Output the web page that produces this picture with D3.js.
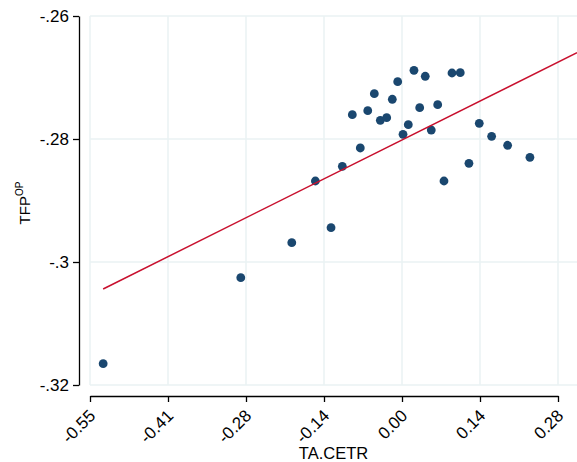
<!DOCTYPE html>
<html><head><meta charset="utf-8">
<script src="https://cdn.jsdelivr.net/npm/d3@7"></script>
<style>html,body{margin:0;padding:0;background:#fff;}svg{display:block;font-family:"Liberation Sans",Arial,sans-serif;}</style>
</head><body>
<script>
const xTicks = [-0.55, -0.4125, -0.275, -0.1375, 0, 0.1375, 0.275];
const xTickLabels = ["-0.55", "-0.41", "-0.28", "-0.14", "0.00", "0.14", "0.28"];
const yTicks = [-0.32, -0.30, -0.28, -0.26];
const yTickLabels = ["-.32", "-.3", "-.28", "-.26"];
const ptX = [-0.5268, -0.2842, -0.1943, -0.1251, -0.1527, -0.1052, -0.0735, -0.0876, -0.0604, -0.0488,
  -0.0382, -0.0270, -0.0171, -0.0076, 0.0018, 0.0111, 0.0211, 0.0312, 0.0410, 0.0516,
  0.0629, 0.0740, 0.0881, 0.1027, 0.1180, 0.1362, 0.1580, 0.1862, 0.2255];
const ptY = [-0.31654, -0.30255, -0.29686, -0.29442, -0.28683, -0.28444, -0.28146, -0.27605, -0.27540, -0.27263,
  -0.27696, -0.27654, -0.27354, -0.27068, -0.27924, -0.27767, -0.26883, -0.27491, -0.26980, -0.27854,
  -0.27442, -0.28683, -0.26927, -0.26922, -0.28395, -0.27745, -0.27956, -0.28102, -0.28298];
const fitX = [-0.5268, 0.3085];
const fitY = [-0.30439, -0.26597];

const W = 577, H = 462;
const svg = d3.select("body").append("svg").attr("width", W).attr("height", H);
const x = d3.scaleLinear().domain([-0.55, 0.275]).range([90, 558]);
const y = d3.scaleLinear().domain([-0.32, -0.26]).range([385, 16]);
const plotRight = W;

const grid = svg.append("g").attr("stroke", "#eaf2f3").attr("stroke-width", 1.5);
grid.selectAll("line.v").data(xTicks).join("line").attr("class", "v")
  .attr("x1", d => x(d)).attr("x2", d => x(d)).attr("y1", y(-0.26)).attr("y2", y(-0.32));
grid.selectAll("line.h").data(yTicks).join("line").attr("class", "h")
  .attr("x1", x(-0.55)).attr("x2", plotRight).attr("y1", d => y(d)).attr("y2", d => y(d));

svg.append("clipPath").attr("id", "clp").append("rect")
  .attr("x", 0).attr("y", 0).attr("width", W).attr("height", H);

svg.append("g").selectAll("circle").data(ptX.map((v, i) => [v, ptY[i]])).join("circle")
  .attr("cx", d => x(d[0])).attr("cy", d => y(d[1])).attr("r", 4.4).attr("fill", "#1a476f");

svg.append("path").attr("clip-path", "url(#clp)")
  .datum(fitX.map((v, i) => [v, fitY[i]]))
  .attr("d", d3.line().x(d => x(d[0])).y(d => y(d[1])))
  .attr("fill", "none").attr("stroke", "#c8102e").attr("stroke-width", 1.5);

const yAxis = d3.axisLeft(y).tickValues(yTicks).tickFormat((d, i) => yTickLabels[i]).tickSize(6).tickSizeOuter(0).tickPadding(4);
const gy = svg.append("g").attr("transform", "translate(79,0)").call(yAxis);
gy.attr("font-family", null);
gy.selectAll("text").attr("font-size", 17).attr("fill", "#000");
gy.selectAll("line,path").attr("stroke", "#000").attr("stroke-width", 1.3);

const xAxis = d3.axisBottom(x).tickValues(xTicks).tickFormat((d, i) => xTickLabels[i]).tickSize(6).tickSizeOuter(0);
const gx = svg.append("g").attr("transform", "translate(0,396)").call(xAxis);
gx.attr("font-family", null);
gx.selectAll("line,path").attr("stroke", "#000").attr("stroke-width", 1.3);
gx.selectAll("text").attr("font-size", 17).attr("fill", "#000")
  .attr("text-anchor", "end").attr("dy", null).attr("y", null)
  .attr("dominant-baseline", "central")
  .attr("transform", "translate(2,17) rotate(-45)");

svg.append("text").attr("x", (90 + 577) / 2).attr("y", 459).attr("text-anchor", "middle")
  .attr("font-size", 16.5).text("TA.CETR");

const yt = svg.append("text").attr("transform", "translate(30,203) rotate(-90)")
  .attr("text-anchor", "middle").attr("font-size", 15);
yt.append("tspan").text("TFP");
yt.append("tspan").attr("font-size", 10).attr("dy", -7).text("OP");
</script>
</body></html>
